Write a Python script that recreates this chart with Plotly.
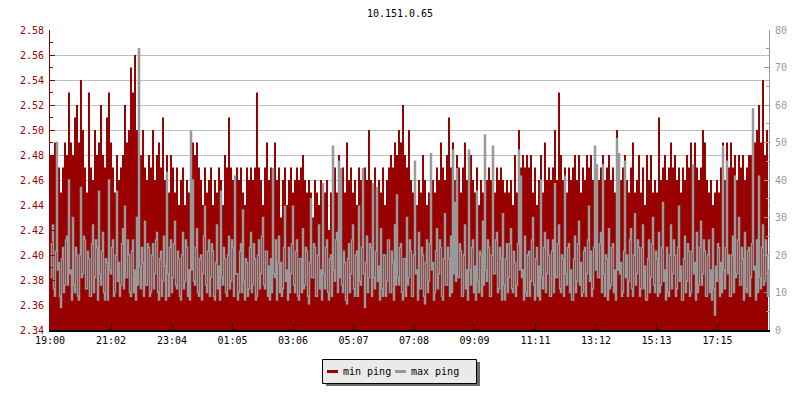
import datetime as dt
import plotly.graph_objects as go

# ---------------- data ----------------
start_time = "2024-01-01 19:00"
min_step_minutes = 4      # min ping sampling
max_step_minutes = 2      # max ping sampling
max_offset_minutes = 1

min_ping = [
    2.48, 2.48, 2.49, 2.46, 2.47, 2.45, 2.47, 2.49, 2.48, 2.53,
    2.49, 2.48, 2.51, 2.52, 2.49, 2.54, 2.50, 2.47, 2.45, 2.53,
    2.47, 2.46, 2.50, 2.48, 2.49, 2.52, 2.48, 2.47, 2.51, 2.53,
    2.49, 2.47, 2.45, 2.48, 2.46, 2.47, 2.48, 2.52, 2.49, 2.50,
    2.55, 2.53, 2.56, 2.50, 2.49, 2.48, 2.50, 2.47, 2.46, 2.48,
    2.47, 2.50, 2.46, 2.48, 2.49, 2.47, 2.51, 2.46, 2.48, 2.45,
    2.48, 2.47, 2.45, 2.47, 2.44, 2.46, 2.47, 2.44, 2.46, 2.45,
    2.47, 2.49, 2.48, 2.49, 2.47, 2.46, 2.44, 2.47, 2.45, 2.46,
    2.47, 2.44, 2.46, 2.45, 2.47, 2.46, 2.44, 2.48, 2.47, 2.51,
    2.47, 2.46, 2.44, 2.47, 2.46, 2.47, 2.45, 2.44, 2.47, 2.46,
    2.47, 2.46, 2.47, 2.53, 2.47, 2.46, 2.44, 2.47, 2.49, 2.46,
    2.47, 2.44, 2.49, 2.46, 2.47, 2.43, 2.46, 2.47, 2.44, 2.46,
    2.47, 2.45, 2.46, 2.47, 2.46, 2.47, 2.48, 2.46, 2.45, 2.46,
    2.45, 2.43, 2.46, 2.45, 2.44, 2.46, 2.43, 2.45, 2.46, 2.42,
    2.45, 2.46, 2.47, 2.45, 2.48, 2.46, 2.47, 2.45, 2.49, 2.46,
    2.47, 2.45, 2.46, 2.44, 2.47, 2.46, 2.45, 2.47, 2.46, 2.50,
    2.46, 2.45, 2.47, 2.43, 2.46, 2.45, 2.47, 2.44, 2.46, 2.47,
    2.48, 2.47, 2.49, 2.48, 2.50, 2.49, 2.52, 2.48, 2.47, 2.50,
    2.46, 2.45, 2.47, 2.44, 2.46, 2.45, 2.48, 2.46, 2.44, 2.45,
    2.48, 2.46, 2.45, 2.47, 2.46, 2.49, 2.47, 2.46, 2.48, 2.51,
    2.47, 2.49, 2.46, 2.48, 2.47, 2.45, 2.47, 2.49, 2.46, 2.48,
    2.48, 2.46, 2.45, 2.47, 2.44, 2.46, 2.45, 2.47, 2.46, 2.47,
    2.46, 2.47, 2.45, 2.47, 2.46, 2.47, 2.46, 2.45, 2.46, 2.45,
    2.46, 2.44, 2.48, 2.45, 2.50, 2.47, 2.48, 2.47, 2.48, 2.47,
    2.48, 2.45, 2.47, 2.44, 2.46, 2.48, 2.45, 2.49, 2.46, 2.47,
    2.46, 2.47, 2.50, 2.46, 2.53, 2.48, 2.46, 2.47, 2.45, 2.47,
    2.46, 2.47, 2.48, 2.46, 2.48, 2.45, 2.47, 2.46, 2.48, 2.47,
    2.48, 2.46, 2.47, 2.45, 2.46, 2.47, 2.48, 2.46, 2.47, 2.48,
    2.46, 2.47, 2.45, 2.50, 2.47, 2.46, 2.47, 2.48, 2.46, 2.45,
    2.47, 2.49, 2.45, 2.46, 2.48, 2.45, 2.47, 2.44, 2.48, 2.46,
    2.48, 2.45, 2.46, 2.45, 2.51, 2.46, 2.47, 2.48, 2.46, 2.47,
    2.49, 2.47, 2.48, 2.46, 2.47, 2.45, 2.47, 2.46, 2.48, 2.47,
    2.49, 2.46, 2.49, 2.47, 2.46, 2.47, 2.50, 2.49, 2.46, 2.45,
    2.46, 2.44, 2.45, 2.46, 2.45, 2.47, 2.49, 2.46, 2.49, 2.47,
    2.49, 2.47, 2.48, 2.46, 2.48, 2.47, 2.48, 2.46, 2.47, 2.48,
    2.48, 2.51, 2.49, 2.50, 2.52, 2.49, 2.54, 2.48, 2.50, 2.51,
]

max_ping = [
    14, 23, 28, 11, 9, 21, 50, 16, 18, 9, 6, 19, 22, 10, 12, 24, 25, 12, 40, 15,
    16, 8, 30, 12, 10, 22, 20, 9, 8, 20, 38, 14, 15, 25, 24, 11, 11, 21, 19, 9,
    9, 23, 28, 10, 14, 24, 22, 8, 37, 15, 12, 21, 26, 10, 8, 19, 18, 8, 40, 16,
    15, 22, 24, 9, 10, 20, 37, 13, 18, 9, 12, 23, 27, 11, 33, 14, 14, 24, 20, 10,
    9, 21, 24, 10, 16, 8, 30, 12, 75, 17, 11, 22, 18, 9, 29, 12, 12, 23, 22, 9,
    10, 20, 23, 11, 15, 24, 26, 10, 8, 19, 21, 9, 13, 25, 17, 8, 42, 15, 9, 22,
    24, 10, 14, 23, 29, 12, 11, 21, 19, 9, 8, 20, 26, 11, 13, 24, 22, 9, 16, 8,
    53, 16, 40, 13, 12, 22, 27, 10, 9, 19, 20, 8, 15, 25, 33, 12, 10, 21, 24, 9,
    14, 23, 21, 9, 8, 18, 28, 11, 17, 8, 37, 14, 12, 22, 19, 10, 9, 20, 25, 11,
    13, 24, 22, 9, 41, 15, 15, 8, 10, 21, 23, 10, 32, 13, 8, 19, 18, 9, 11, 22,
    26, 10, 12, 23, 19, 8, 9, 20, 24, 11, 15, 25, 30, 12, 11, 21, 21, 9, 17, 8,
    19, 10, 43, 15, 14, 24, 8, 18, 25, 10, 18, 9, 11, 22, 33, 13, 16, 8, 22, 10,
    15, 23, 33, 12, 10, 21, 24, 9, 8, 19, 19, 10, 27, 11, 12, 22, 21, 9, 7, 18,
    35, 14, 14, 23, 22, 9, 9, 20, 28, 11, 16, 8, 39, 15, 11, 22, 24, 10, 8, 19,
    20, 9, 49, 16, 13, 24, 26, 10, 45, 14, 43, 12, 10, 21, 18, 8, 7, 19, 23, 10,
    15, 24, 28, 11, 9, 20, 21, 9, 33, 13, 12, 22, 43, 15, 6, 18, 25, 10, 14, 23,
    22, 9, 39, 14, 11, 21, 38, 13, 17, 8, 27, 11, 9, 20, 20, 9, 13, 24, 24, 10,
    10, 21, 18, 8, 28, 12, 36, 14, 12, 22, 23, 10, 8, 19, 19, 9, 30, 12, 14, 24,
    21, 9, 9, 20, 45, 15, 16, 8, 26, 11, 11, 22, 20, 9, 7, 18, 24, 10, 13, 23,
    47, 16, 18, 8, 10, 21, 27, 11, 15, 24, 22, 9, 8, 19, 31, 12, 12, 22, 19, 9,
    25, 10, 48, 15, 34, 13, 43, 14, 14, 23, 21, 9, 9, 20, 28, 11, 16, 8, 48, 16,
    12, 22, 24, 10, 17, 8, 37, 13, 10, 21, 20, 9, 29, 12, 52, 16, 13, 24, 22, 9,
    9, 20, 49, 15, 15, 24, 26, 10, 11, 22, 19, 8, 31, 12, 8, 19, 23, 10, 14, 23,
    27, 11, 10, 21, 18, 9, 12, 23, 48, 16, 41, 14, 16, 8, 25, 10, 9, 20, 21, 9,
    13, 24, 30, 12, 8, 19, 22, 9, 17, 8, 40, 14, 11, 22, 26, 10, 15, 24, 20, 9,
    9, 21, 24, 10, 39, 14, 14, 23, 28, 11, 10, 20, 19, 9, 41, 15, 12, 22, 23, 10,
    16, 8, 8, 19, 25, 10, 13, 23, 29, 12, 18, 9, 10, 21, 22, 9, 15, 24, 33, 13,
    21, 9, 11, 22, 49, 16, 44, 14, 14, 23, 26, 10, 44, 15, 9, 20, 19, 8, 27, 11,
    12, 22, 23, 10, 16, 8, 51, 16, 47, 15, 18, 9, 10, 21, 45, 14, 20, 9, 13, 24,
    27, 11, 9, 20, 31, 12, 15, 24, 22, 9, 11, 22, 28, 11, 17, 8, 8, 19, 24, 10,
    14, 23, 30, 12, 10, 21, 19, 9, 26, 10, 12, 22, 34, 13, 16, 8, 22, 10, 9, 20,
    28, 11, 15, 24, 20, 9, 11, 22, 33, 13, 17, 8, 8, 19, 25, 10, 13, 23, 21, 9,
    10, 21, 44, 15, 18, 8, 26, 10, 12, 22, 29, 12, 15, 24, 21, 9, 9, 20, 24, 10,
    16, 8, 27, 11, 4, 17, 13, 23, 22, 9, 18, 10, 49, 16, 11, 22, 45, 15, 20, 9,
    9, 20, 25, 10, 41, 14, 15, 24, 30, 12, 12, 22, 19, 8, 26, 11, 10, 21, 22, 9,
    14, 23, 59, 16, 17, 8, 24, 10, 41, 14, 11, 22, 28, 12, 13, 24, 20, 9, 16, 21,
]

tick_labels = ["19:00", "21:02", "23:04", "01:05", "03:06", "05:07",
               "07:08", "09:09", "11:11", "13:12", "15:13", "17:15"]

series_names = ["min ping", "max ping"]

# ---------------- build ----------------
t0 = dt.datetime.strptime(start_time, "%Y-%m-%d %H:%M")
times_min = [t0 + dt.timedelta(minutes=min_step_minutes * i) for i in range(len(min_ping))]
times_max = [t0 + dt.timedelta(minutes=max_step_minutes * i + max_offset_minutes)
             for i in range(len(max_ping))]

tick_vals = []
for lab in tick_labels:
    h, m = map(int, lab.split(":"))
    t = t0.replace(hour=h, minute=m)
    if t < t0:
        t += dt.timedelta(days=1)
    tick_vals.append(t)

x_end = t0 + dt.timedelta(minutes=1438)

RED = "#990000"
GRAY = "#999999"
MONO = "DejaVu Sans Mono, monospace"

W, H = 800, 400
ML, MR, MT, MB = 50, 31, 30, 70
PW, PH = W - ML - MR, H - MT - MB


def px(xp):
    return (xp - ML) / PW


def py(yp):
    return (H - MB - yp) / PH


fig = go.Figure()
fig.add_trace(go.Scatter(
    x=times_min, y=min_ping, name=series_names[0], mode="lines",
    line=dict(color=RED, width=0, shape="hv"),
    fill="tozeroy", fillcolor=RED, yaxis="y", showlegend=False,
))
fig.add_trace(go.Scatter(
    x=times_max, y=max_ping, name=series_names[1], mode="lines",
    line=dict(color=GRAY, width=1.5, shape="hv"),
    yaxis="y2", showlegend=False,
))

# legend drawn by hand (box with drop shadow, short line keys)
shapes = [
    dict(type="rect", xref="paper", yref="paper",
         x0=px(326), x1=px(480), y0=py(362), y1=py(386),
         fillcolor="#6a6a6a", line=dict(width=0), layer="above"),
    dict(type="rect", xref="paper", yref="paper",
         x0=px(322.5), x1=px(476.5), y0=py(359.5), y1=py(383.5),
         fillcolor="#eaeaea", line=dict(color="black", width=1), layer="above"),
    dict(type="line", xref="paper", yref="paper",
         x0=px(327), x1=px(338), y0=py(371.5), y1=py(371.5),
         line=dict(color=RED, width=3), layer="above"),
    dict(type="line", xref="paper", yref="paper",
         x0=px(395), x1=px(406), y0=py(371.5), y1=py(371.5),
         line=dict(color=GRAY, width=3), layer="above"),
]
annotations = [
    dict(xref="paper", yref="paper", x=px(341), y=py(371), text=series_names[0],
         showarrow=False, xanchor="left", yanchor="middle",
         font=dict(family=MONO, size=10, color="black")),
    dict(xref="paper", yref="paper", x=px(409), y=py(371), text=series_names[1],
         showarrow=False, xanchor="left", yanchor="middle",
         font=dict(family=MONO, size=10, color="black")),
]

fig.update_layout(
    width=W, height=H,
    margin=dict(l=ML, r=MR, t=MT, b=MB),
    paper_bgcolor="white", plot_bgcolor="white",
    font=dict(family=MONO, size=10, color="black"),
    title=dict(text="10.151.0.65", x=0.5, xanchor="center",
               y=1 - 13 / H, yanchor="middle", yref="container",
               font=dict(family=MONO, size=10, color="black")),
    xaxis=dict(
        type="date", range=[t0, x_end],
        tickvals=tick_vals, ticktext=tick_labels,
        ticks="inside", ticklen=5, tickcolor="black", tickwidth=1,
        showline=True, linecolor="black", linewidth=2,
        showgrid=False, zeroline=False, automargin=False,
        tickfont=dict(family=MONO, size=10, color="black"),
    ),
    yaxis=dict(
        range=[2.34, 2.58], dtick=0.02, tick0=2.34, tickformat=".2f",
        ticks="inside", ticklen=5, tickcolor=RED,
        showline=True, linecolor=RED, linewidth=1,
        showgrid=True, gridcolor="#c0c0c0", gridwidth=1,
        zeroline=False, automargin=False, ticklabelstandoff=3,
        minor=dict(dtick=0.01, ticks="inside", ticklen=3, tickcolor=RED, showgrid=False),
        tickfont=dict(family=MONO, size=10, color=RED),
    ),
    yaxis2=dict(
        range=[0, 80], dtick=10, overlaying="y", side="right",
        ticks="inside", ticklen=5, tickcolor=GRAY,
        showline=True, linecolor=GRAY, linewidth=1,
        showgrid=False, zeroline=False, automargin=False, ticklabelstandoff=3,
        minor=dict(dtick=5, ticks="inside", ticklen=3, tickcolor=GRAY, showgrid=False),
        tickfont=dict(family=MONO, size=10, color=GRAY),
    ),
    showlegend=False,
    shapes=shapes,
    annotations=annotations,
)

fig.write_html("out.html", config={"displayModeBar": False},
               post_script="document.body.style.margin='0';")
